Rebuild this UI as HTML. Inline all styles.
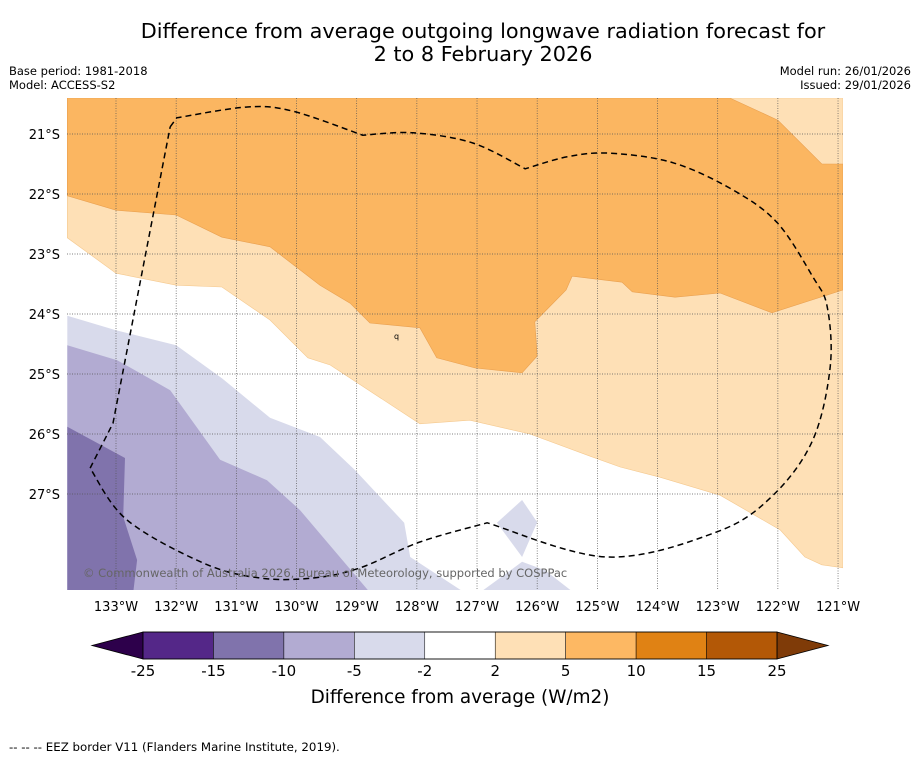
<!DOCTYPE html>
<html><head><meta charset="utf-8">
<style>
html,body{margin:0;padding:0;background:#fff;}
body{width:919px;height:758px;overflow:hidden;font-family:"Liberation Sans","DejaVu Sans",sans-serif;}
svg text{font-family:"DejaVu Sans","Liberation Sans",sans-serif;}
</style></head>
<body>
<svg id="chart" width="919" height="758" viewBox="0 0 919 758" xmlns="http://www.w3.org/2000/svg">
<text x="483" y="38" font-size="20.8" text-anchor="middle">Difference from average outgoing longwave radiation forecast for</text>
<text x="483" y="61" font-size="20.8" text-anchor="middle">2 to 8 February 2026</text>
<text x="9" y="75" font-size="11.5">Base period: 1981-2018</text>
<text x="9" y="89" font-size="11.5">Model: ACCESS-S2</text>
<text x="911" y="75" font-size="11.5" text-anchor="end">Model run: 26/01/2026</text>
<text x="911" y="89" font-size="11.5" text-anchor="end">Issued: 29/01/2026</text>
<defs><clipPath id="mapclip"><rect x="67" y="98" width="776" height="492"/></clipPath></defs>
<g id="map" clip-path="url(#mapclip)"></g>
<g id="axes"></g>
<g id="cbar"></g>
<text x="460" y="703" font-size="18.4" text-anchor="middle">Difference from average (W/m2)</text>
<text x="9" y="751" font-size="11.8">--  --  -- EEZ border V11 (Flanders Marine Institute, 2019).</text>
</svg>
<script>
// Data: contour polygons as [degrees West, degrees South]
const lonTicks = [133,132,131,130,129,128,127,126,125,124,123,122,121];
const latTicks = [21,22,23,24,25,26,27];
const lightOrange = [[133.81,20.40],[120.92,20.40],[120.92,28.23],[121.27,28.18],[121.55,28.05],[121.96,27.60],[122.96,27.02],[123.96,26.72],[124.62,26.55],[125.12,26.37],[126.12,26.00],[127.12,25.77],[127.95,25.83],[129.44,24.85],[129.81,24.73],[130.44,24.10],[131.24,23.55],[132.00,23.52],[133.00,23.32],[133.81,22.73]];
const darkOrange = [[133.81,20.40],[122.80,20.40],[122.00,20.77],[121.27,21.50],[120.92,21.50],[120.92,23.60],[122.10,23.98],[122.96,23.65],[123.71,23.72],[124.42,23.63],[124.59,23.47],[125.42,23.37],[125.52,23.60],[126.04,24.13],[126.00,24.70],[126.25,24.98],[127.03,24.90],[127.67,24.73],[127.95,24.23],[128.78,24.15],[129.11,23.82],[129.61,23.52],[130.44,22.88],[131.24,22.72],[132.00,22.35],[133.00,22.27],[133.81,22.03]];
const lightPurple = [[133.81,24.03],[133.00,24.27],[132.00,24.52],[131.24,25.07],[130.44,25.73],[129.61,26.05],[129.03,26.60],[128.21,27.48],[128.11,28.05],[127.12,28.70],[133.81,28.70]];
const lightPurplePatch = [[127.03,28.70],[126.25,28.13],[125.87,28.27],[125.32,28.70]];
const lightPurpleDiamond = [[126.67,27.48],[126.25,27.10],[126.00,27.47],[126.25,28.05]];
const midPurple = [[133.81,24.52],[132.98,24.77],[132.10,25.27],[131.27,26.43],[130.49,26.77],[129.94,27.27],[128.73,28.70],[133.81,28.70]];
const darkPurple = [[133.81,25.88],[132.85,26.40],[132.88,27.38],[132.65,28.10],[132.72,28.70],[133.81,28.70]];
const eez = [[132.10,20.88],[131.99,20.73],[130.82,20.55],[130.06,20.62],[128.90,21.02],[128.06,20.98],[127.07,21.15],[126.20,21.58],[125.50,21.38],[124.79,21.32],[123.74,21.48],[122.75,21.93],[122.01,22.48],[121.42,23.38],[121.18,23.88],[121.13,24.88],[121.42,26.10],[122.08,27.02],[123.01,27.63],[124.84,28.05],[126.83,27.48],[127.95,27.80],[128.94,28.23],[129.73,28.40],[130.61,28.40],[131.55,28.15],[132.82,27.43],[133.43,26.57],[133.05,25.82],[132.10,20.88]];
const eezCorners = [0,1,4,7,20,27,28,29];
const cbarBounds = [-25,-15,-10,-5,-2,2,5,10,15,25];
const cbarColors = ["#542788","#8073ac","#b2abd2","#d8daeb","#ffffff","#fee0b6","#fdb863","#e08214","#b35806"];

const NS="http://www.w3.org/2000/svg";
function X(w){return 116+(133-w)*60.17;}
function Y(s){return 134+(s-21)*60;}
function mk(tag,attrs,parent){const e=document.createElementNS(NS,tag);for(const k in attrs)e.setAttribute(k,attrs[k]);parent.appendChild(e);return e;}
const map=document.getElementById('map');
function poly(pts,fill,name,stroke){
  const e=mk('polygon',{points:pts.map(p=>X(p[0]).toFixed(1)+','+Y(p[1]).toFixed(1)).join(' '),fill:fill,stroke:stroke||'none','stroke-width':0.6},map);
  
  
}
poly(lightOrange,'#fee0b6','contour-2-to-5','#f5c98f');
poly(darkOrange,'#fbb661','contour-5-to-10','#e9a050');
poly(lightPurple,'#d8daeb','contour-minus2-to-minus5');
poly(lightPurplePatch,'#d8daeb','contour-minus2-patch');
poly(lightPurpleDiamond,'#d8daeb','contour-minus2-diamond');
poly(midPurple,'#b2abd2','contour-minus5-to-minus10');
poly(darkPurple,'#8073ac','contour-minus10-to-minus15');
lonTicks.forEach(w=>{const l=mk('line',{x1:X(w),x2:X(w),y1:98,y2:590,stroke:'#555','stroke-width':0.7,'stroke-dasharray':'1,1.5'},map);
  
  });
latTicks.forEach(s=>{const l=mk('line',{x1:67,x2:843,y1:Y(s),y2:Y(s),stroke:'#555','stroke-width':0.7,'stroke-dasharray':'1,1.5'},map);
  
  });
// EEZ, smoothed between corners (Catmull-Rom)
const P=eez.map(p=>[X(p[0]),Y(p[1])]);
let d='M'+P[0][0].toFixed(1)+','+P[0][1].toFixed(1);
for(let c=0;c<eezCorners.length-1;c++){
  const a=eezCorners[c],b=eezCorners[c+1];
  for(let i=a;i<b;i++){
    const p0=P[Math.max(i-1,a)],p1=P[i],p2=P[i+1],p3=P[Math.min(i+2,b)];
    const c1=[p1[0]+(p2[0]-p0[0])/6,p1[1]+(p2[1]-p0[1])/6];
    const c2=[p2[0]-(p3[0]-p1[0])/6,p2[1]-(p3[1]-p1[1])/6];
    d+=` C${c1[0].toFixed(1)},${c1[1].toFixed(1)} ${c2[0].toFixed(1)},${c2[1].toFixed(1)} ${p2[0].toFixed(1)},${p2[1].toFixed(1)}`;
  }
}
const ez=mk('path',{d:d,fill:'none',stroke:'#000','stroke-width':1.5,'stroke-dasharray':'6,4'},map);


const q=mk('text',{x:394,y:339,'font-size':8},map);q.textContent='q';


const cp=mk('text',{x:83,y:577,'font-size':11.5,fill:'#666'},map);
cp.textContent='© Commonwealth of Australia 2026, Bureau of Meteorology, supported by COSPPac';


const ax=document.getElementById('axes');
lonTicks.forEach(w=>{const t=mk('text',{x:X(w),y:611,'font-size':13,'text-anchor':'middle'},ax);t.textContent=w+'°W';
  
  });
latTicks.forEach(s=>{const t=mk('text',{x:60,y:Y(s)+5,'font-size':13,'text-anchor':'end'},ax);t.textContent=s+'°S';
  
  });
const cb=document.getElementById('cbar');
const cx0=143,cx1=777,cy0=632,cy1=659;
function CX(i){return cx0+(cx1-cx0)*i/(cbarBounds.length-1);}
const lt=mk('polygon',{points:`${cx0},${cy0} ${cx0},${cy1} 92,${(cy0+cy1)/2}`,fill:'#2d004b',stroke:'#000','stroke-width':0.8},cb);


const rt=mk('polygon',{points:`${cx1},${cy0} ${cx1},${cy1} 828,${(cy0+cy1)/2}`,fill:'#7f3b08',stroke:'#000','stroke-width':0.8},cb);


cbarColors.forEach((c,i)=>{const r=mk('rect',{x:CX(i),y:cy0,width:CX(i+1)-CX(i),height:cy1-cy0,fill:c,stroke:'#000','stroke-width':0.5},cb);
  
  });
mk('rect',{x:cx0,y:cy0,width:cx1-cx0,height:cy1-cy0,fill:'none',stroke:'#000','stroke-width':0.8},cb);
cbarBounds.forEach((v,i)=>{const t=mk('text',{x:CX(i),y:676,'font-size':15,'text-anchor':'middle'},cb);t.textContent=v;
  
  });
</script>
</body></html>
